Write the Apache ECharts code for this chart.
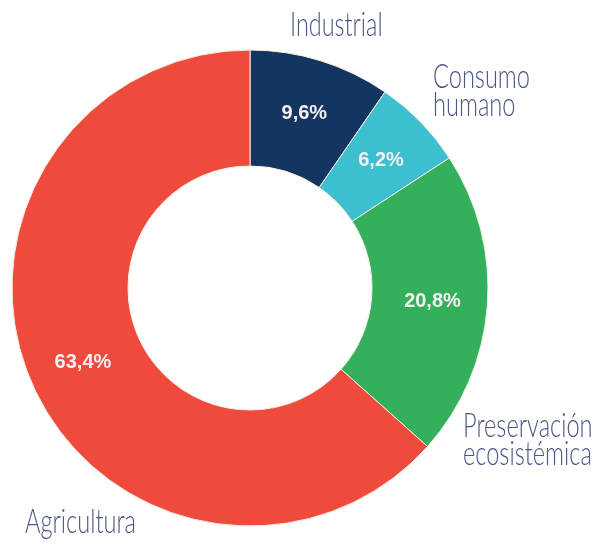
<!DOCTYPE html>
<html>
<head>
<meta charset="utf-8">
<script src="https://cdn.jsdelivr.net/npm/echarts@6/dist/echarts.min.js"></script>
<style>html,body{margin:0;padding:0;background:#fff;}#c{width:595px;height:541px;}</style>
</head>
<body>
<div id="c"></div>
<script>
const categories = ['Industrial', 'Consumo humano', 'Preservación ecosistémica', 'Agricultura'];
const values = [9.6, 6.2, 20.8, 63.4];
const valueLabels = ['9,6%', '6,2%', '20,8%', '63,4%'];
const colors = ['#14355f', '#3cbfcf', '#34b05c', '#ee4b3d'];
const outerNames = [['Industrial'], ['Consumo', 'humano'], ['Preservación', 'ecosistémica'], ['Agricultura']];

const chart = echarts.init(document.getElementById('c'));
const nameFont = { fontFamily: 'Lato, sans-serif', fontWeight: 300, fontSize: 33, fill: '#4a5586' };
const namePos = [
  { x: 290, y: 11.5, s: 0.71 },
  { x: 433, y: 63.5, s: 0.715 },
  { x: 463, y: 412.5, s: 0.715 },
  { x: 25, y: 508.5, s: 0.715 }
];
chart.setOption({
  animation: false,
  series: [{
    type: 'pie',
    center: [250, 288],
    radius: [122, 238],
    startAngle: 90,
    clockwise: true,
    avoidLabelOverlap: false,
    itemStyle: { borderColor: '#f7eee4', borderWidth: 1 },
    label: {
      show: true,
      position: 'inside',
      color: '#f6f1f1',
      fontFamily: 'Liberation Sans, Arial, sans-serif',
      fontWeight: 'bold',
      fontSize: 20,
      formatter: p => valueLabels[p.dataIndex]
    },
    labelLine: { show: false },
    data: categories.map((c, i) => ({ name: c, value: values[i], itemStyle: { color: colors[i] } }))
  }],
  graphic: outerNames.map((lines, i) => ({
    type: 'text',
    x: namePos[i].x,
    y: namePos[i].y,
    scaleX: namePos[i].s,
    style: Object.assign({ text: lines.join('\n'), lineHeight: 28, align: 'left', verticalAlign: 'top' }, nameFont)
  }))
});
</script>
</body>
</html>
